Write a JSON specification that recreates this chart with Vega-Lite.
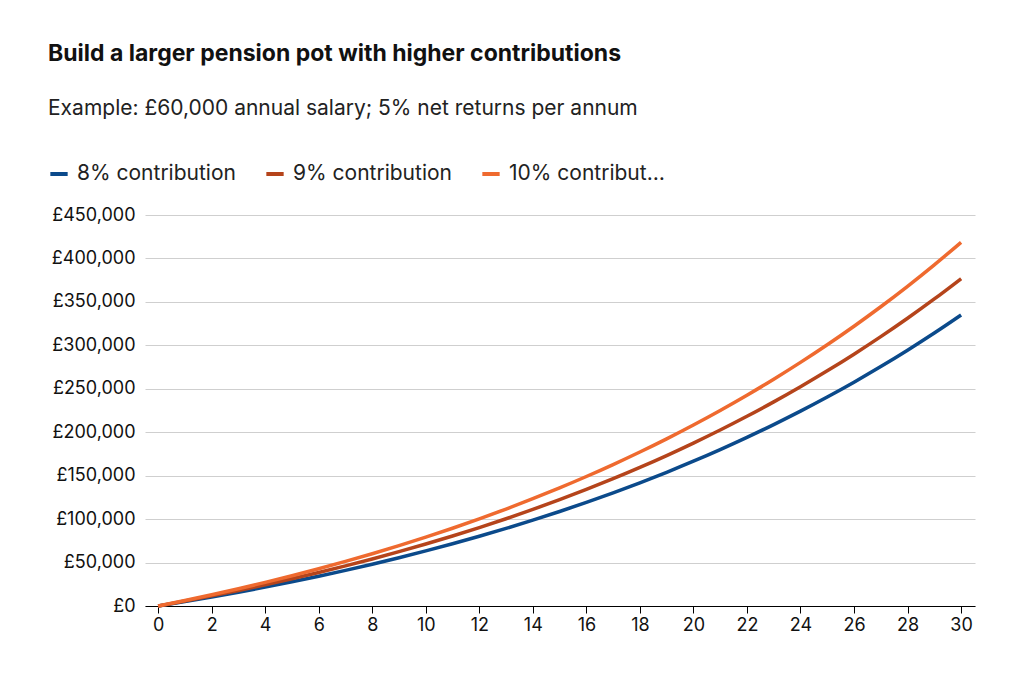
{
  "$schema": "https://vega.github.io/schema/vega-lite/v6.json",
  "width": 830,
  "height": 391,
  "autosize": "none",
  "padding": {"left": 145, "top": 215, "right": 49, "bottom": 81},
  "background": "white",
  "title": {
    "text": "Build a larger pension pot with higher contributions",
    "subtitle": "Example: £60,000 annual salary; 5% net returns per annum",
    "anchor": "start",
    "frame": "group",
    "dx": -97,
    "offset": 44,
    "font": "Inter",
    "fontSize": 23,
    "fontWeight": "bold",
    "color": "#111",
    "subtitleFont": "Inter",
    "subtitleFontSize": 21,
    "subtitleColor": "#222",
    "subtitlePadding": 32
  },
  "data": {
    "values": [
      {"year": 0, "c8": 0, "c9": 0, "c10": 0},
      {"year": 1, "c8": 5040, "c9": 5670, "c10": 6300},
      {"year": 2, "c8": 10332, "c9": 11624, "c10": 12915},
      {"year": 3, "c8": 15889, "c9": 17875, "c10": 19861},
      {"year": 4, "c8": 21723, "c9": 24438, "c10": 27154},
      {"year": 5, "c8": 27849, "c9": 31330, "c10": 34812},
      {"year": 6, "c8": 34282, "c9": 38567, "c10": 42852},
      {"year": 7, "c8": 41036, "c9": 46165, "c10": 51295},
      {"year": 8, "c8": 48127, "c9": 54143, "c10": 60159},
      {"year": 9, "c8": 55574, "c9": 62521, "c10": 69467},
      {"year": 10, "c8": 63393, "c9": 71317, "c10": 79241},
      {"year": 11, "c8": 71602, "c9": 80552, "c10": 89503},
      {"year": 12, "c8": 80222, "c9": 90250, "c10": 100278},
      {"year": 13, "c8": 89273, "c9": 100433, "c10": 111592},
      {"year": 14, "c8": 98777, "c9": 111124, "c10": 123471},
      {"year": 15, "c8": 108756, "c9": 122350, "c10": 135945},
      {"year": 16, "c8": 119234, "c9": 134138, "c10": 149042},
      {"year": 17, "c8": 130235, "c9": 146515, "c10": 162794},
      {"year": 18, "c8": 141787, "c9": 159511, "c10": 177234},
      {"year": 19, "c8": 153917, "c9": 173156, "c10": 192396},
      {"year": 20, "c8": 166652, "c9": 187484, "c10": 208316},
      {"year": 21, "c8": 180025, "c9": 202528, "c10": 225031},
      {"year": 22, "c8": 194066, "c9": 218325, "c10": 242583},
      {"year": 23, "c8": 208810, "c9": 234911, "c10": 261012},
      {"year": 24, "c8": 224290, "c9": 252326, "c10": 280363},
      {"year": 25, "c8": 240545, "c9": 270613, "c10": 300681},
      {"year": 26, "c8": 257612, "c9": 289813, "c10": 322015},
      {"year": 27, "c8": 275532, "c9": 309974, "c10": 344415},
      {"year": 28, "c8": 294349, "c9": 331143, "c10": 367936},
      {"year": 29, "c8": 314107, "c9": 353370, "c10": 392633},
      {"year": 30, "c8": 334852, "c9": 376708, "c10": 418565}
    ]
  },
  "transform": [
    {"fold": ["c8", "c9", "c10"], "as": ["key", "pot"]},
    {"calculate": "datum.key == 'c8' ? '8% contribution' : datum.key == 'c9' ? '9% contribution' : '10% contribution'", "as": "series"}
  ],
  "mark": {"type": "line", "strokeWidth": 3.5, "interpolate": "monotone"},
  "encoding": {
    "x": {
      "field": "year", "type": "quantitative",
      "scale": {"domain": [-0.49, 30.52], "nice": false},
      "axis": {"title": null, "values": [0,2,4,6,8,10,12,14,16,18,20,22,24,26,28,30], "grid": false, "domainColor": "#000", "tickColor": "#000", "tickSize": 7, "labelPadding": 3}
    },
    "y": {
      "field": "pot", "type": "quantitative",
      "scale": {"domain": [0, 450000]},
      "axis": {"title": null, "tickCount": 9, "labelExpr": "'£' + format(datum.value, ',')", "ticks": false, "domain": false, "gridColor": "#cfcfcf", "labelPadding": 10}
    },
    "color": {
      "field": "series", "type": "nominal",
      "sort": ["8% contribution", "9% contribution", "10% contribution"],
      "scale": {"domain": ["8% contribution", "9% contribution", "10% contribution"], "range": ["#0b4a8b", "#b5441b", "#ef6a2f"]},
      "legend": {"title": null, "orient": "none", "legendX": -97, "legendY": -52, "direction": "horizontal", "symbolType": "stroke", "symbolStrokeWidth": 4, "symbolSize": 300, "labelFontSize": 21, "labelFont": "Inter", "labelColor": "#222", "columnPadding": 22, "labelOffset": 7}
    }
  },
  "config": {
    "view": {"stroke": null},
    "axis": {"labelFont": "Inter", "labelFontSize": 18, "labelColor": "#111"}
  }
}
